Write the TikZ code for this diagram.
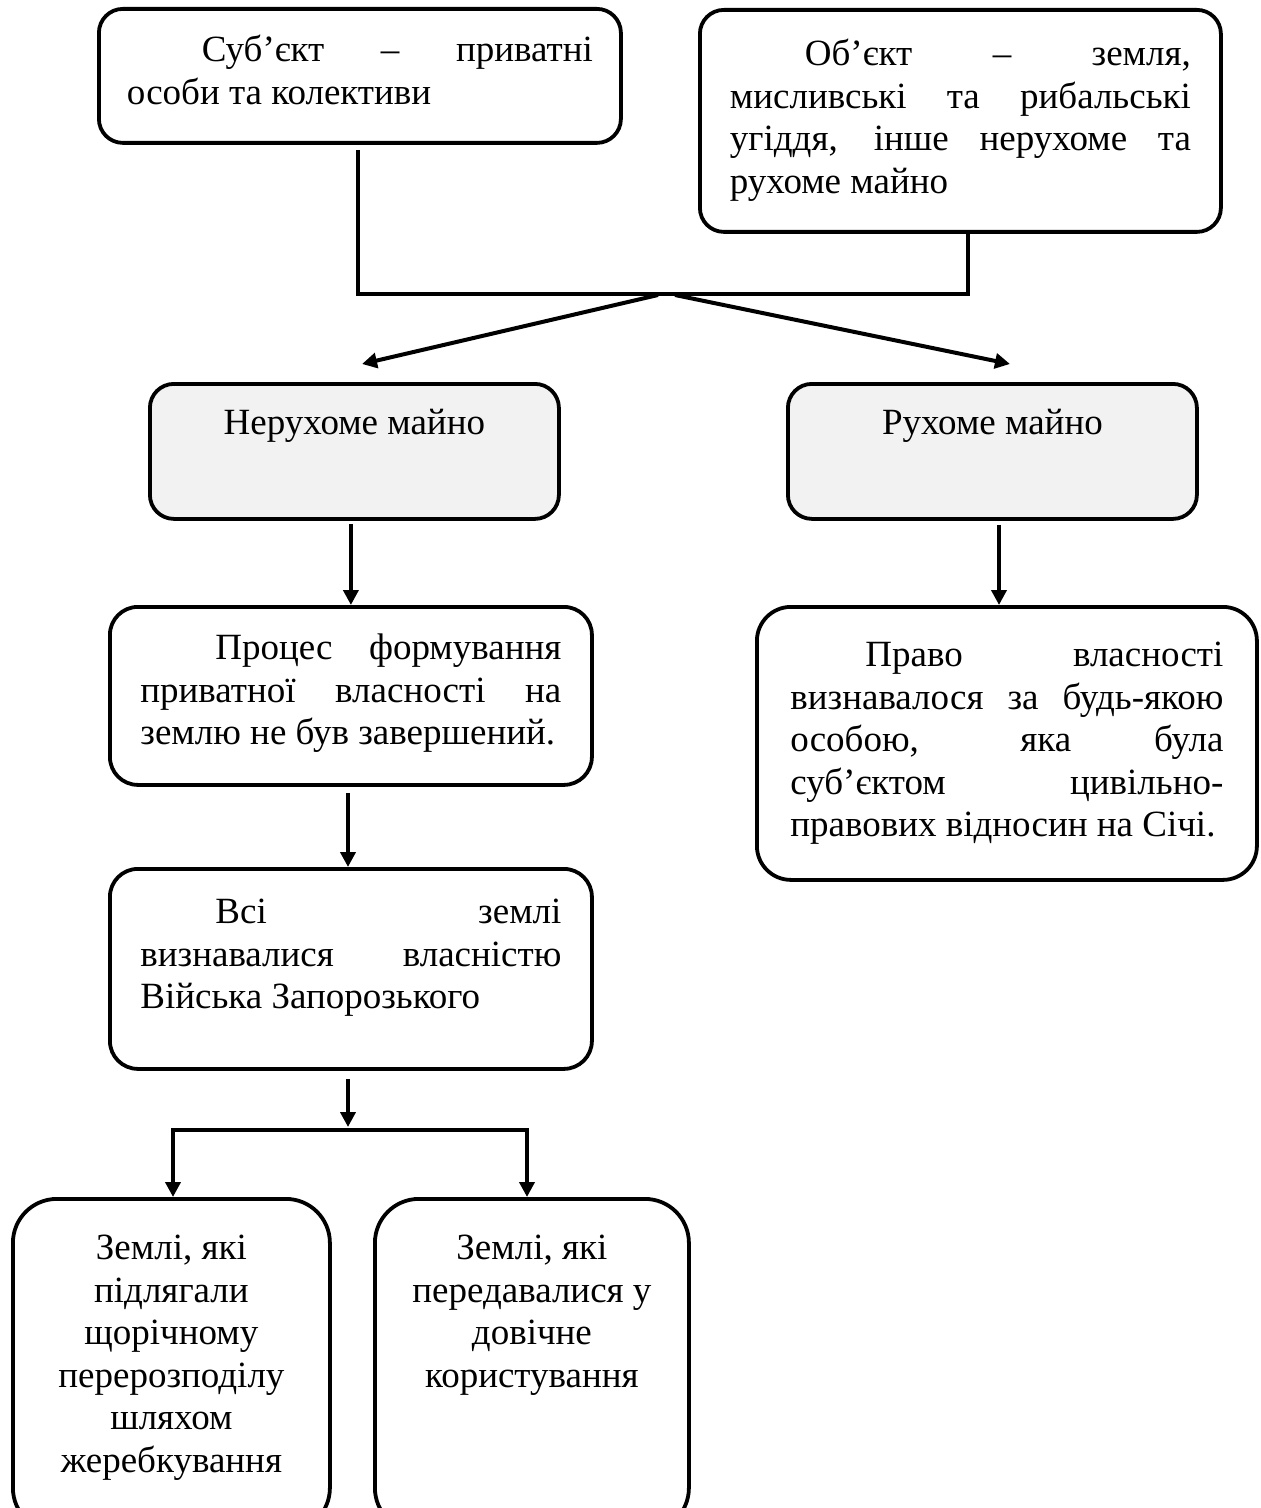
\documentclass[tikz,border=0pt]{standalone}
\usepackage{fontspec}
\setmainfont{Liberation Serif}
\usetikzlibrary{arrows.meta,calc}
\definecolor{boxgray}{HTML}{F2F2F2}
\newcommand\boxtext[3]{\parbox[t][#1][t]{#2}{\strut #3}}
\newcommand\jline[1]{\makebox[\linewidth][s]{#1}}
\newcommand\indt{\hspace*{37.5pt}}
\begin{document}
\begin{tikzpicture}[x=0.5pt,y=-0.5pt,
  box/.style={draw, line width=1.9pt, rounded corners=12pt, inner sep=0pt, anchor=north west,
    font=\fontsize{18.5}{21.25}\selectfont},
  conn/.style={line width=2pt},
  arr/.style={line width=2pt, -{Triangle[length=7.5pt,width=7.5pt]}}]
\useasboundingbox (0,0) rectangle (1261,1508);

% top boxes
\node[box, inner xsep=14pt, inner ysep=11.625pt] (subj) at (97,7)
  {\boxtext{43.75pt}{233pt}{\jline{\indt Суб’єкт – приватні}\\особи та колективи}};
\node[box, inner xsep=15pt, inner ysep=13.125pt] (obj) at (698,8)
  {\boxtext{84.75pt}{230.5pt}{\jline{\indt Об’єкт – земля,}\\\jline{мисливські та рибальські}\\\jline{угіддя, інше нерухоме та}\\рухоме майно}};

% gray boxes
\node[box, fill=boxgray, inner xsep=10pt, inner ysep=10.625pt] (nerukh) at (148,382)
  {\boxtext{46.25pt}{184.5pt}{\centering Нерухоме майно}};
\node[box, fill=boxgray, inner xsep=10pt, inner ysep=10.625pt] (rukh) at (786,382)
  {\boxtext{46.25pt}{184.5pt}{\centering Рухоме майно}};

% middle boxes
\node[box, rounded corners=14pt, inner xsep=15.25pt, inner ysep=11.625pt] (proc) at (108,605)
  {\boxtext{65.75pt}{210.5pt}{\jline{\indt Процес формування}\\\jline{приватної власності на}\\землю не був завершений.}};
\node[box, rounded corners=14pt, inner xsep=15.25pt, inner ysep=12.625pt] (vsi) at (108,867)
  {\boxtext{74.75pt}{210.5pt}{\jline{\indt Всі землі}\\\jline{визнавалися власністю}\\Війська Запорозького}};
\node[box, rounded corners=17pt, inner xsep=16.75pt, inner ysep=15.125pt] (pravo) at (755,605)
  {\boxtext{106.25pt}{216.5pt}{\jline{\indt Право власності}\\\jline{визнавалося за будь-якою}\\\jline{особою, яка була}\\\jline{суб’єктом цивільно-}\\правових відносин на Січі.}};

% bottom boxes
\node[box, rounded corners=22pt, inner xsep=10pt, inner ysep=15.625pt] (zl) at (11,1197)
  {\boxtext{135.25pt}{138.5pt}{\centering Землі, які\\підлягали\\щорічному\\перерозподілу\\шляхом\\жеребкування}};
\node[box, rounded corners=22pt, inner xsep=10pt, inner ysep=15.625pt] (zr) at (373,1197)
  {\boxtext{135.25pt}{137pt}{\centering Землі, які\\передавалися у\\довічне\\користування}};

% junction coordinates
\coordinate (jl) at (358,294);
\coordinate (jr) at (968,294);
\coordinate (jml) at (658,295);
\coordinate (jmr) at (675,295);
\coordinate (tl) at (362,364);
\coordinate (tr) at (1010,364);
\coordinate (rx) at (999,0);
\coordinate (sm) at (348,1130);
\coordinate (sl) at (173,1130);
\coordinate (sr) at (527,1130);

% connectors
\draw[conn] ([yshift=-2.5pt]subj.south -| jl) -- (jl) -- (jr) -- (obj.south -| jr);
\draw[arr] (jml) -- (tl);
\draw[arr] (jmr) -- (tr);
\draw[arr] ([yshift=-1.5pt]nerukh.south -| proc.north) -- (proc.north);
\draw[arr] ([yshift=-2pt]rukh.south -| rx) -- (pravo.north -| rx);
\draw[arr] ([yshift=-3pt]proc.south -| sm) -- (vsi.north -| sm);
\draw[arr] ([yshift=-4pt]vsi.south -| sm) -- ([yshift=1.5pt]sm);
\draw[arr] (sr) -- (sl) -- (zl.north -| sl);
\draw[arr] ([yshift=1pt]sr) -- (zr.north -| sr);
\end{tikzpicture}
\end{document}
